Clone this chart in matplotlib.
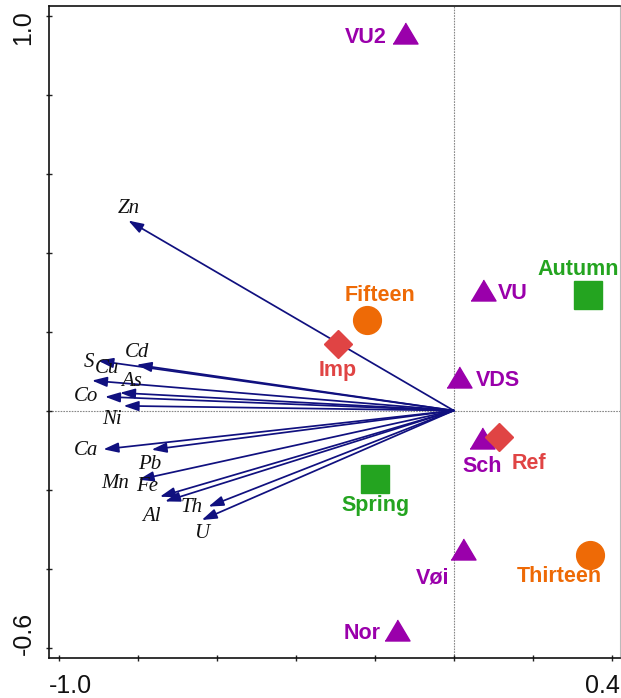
import numpy as np
import matplotlib
matplotlib.use("Agg")
import matplotlib.pyplot as plt

# environmental variables (arrows from origin)
elements = ["Zn", "S", "Cd", "Cu", "As", "Co", "Ni", "Ca", "Pb", "Mn", "Fe", "Al", "Th", "U"]
elem_x = [-0.824, -0.900, -0.803, -0.916, -0.845, -0.883, -0.836, -0.887, -0.765, -0.798, -0.744, -0.731, -0.621, -0.638]
elem_y = [0.481, 0.126, 0.116, 0.076, 0.045, 0.035, 0.012, -0.098, -0.099, -0.175, -0.218, -0.230, -0.243, -0.277]

# samples / factors
sites = ["VU2", "VU", "VDS", "Sch", "Vøi", "Nor"]
site_x = [-0.123, 0.073, 0.014, 0.072, 0.024, -0.143]
site_y = [0.956, 0.306, 0.086, -0.070, -0.351, -0.555]

seasons = ["Autumn", "Spring"]
season_x = [0.339, -0.199]
season_y = [0.293, -0.174]

years = ["Fifteen", "Thirteen"]
year_x = [-0.220, 0.345]
year_y = [0.230, -0.365]

treat = ["Imp", "Ref"]
treat_x = [-0.294, 0.114]
treat_y = [0.169, -0.066]

# label offsets (points)
elem_off = [(0.5, 9), (-7, -1), (0, 9), (11, 9), (8, 8.5), (-13.5, 0), (-8, -9.5),
            (-12.5, -1), (-1, -11), (-17, -2.5), (-9.5, 7.5), (-9.5, -11), (-12, -1), (0, -10)]
site_off = [(-28, -3.5), (22, -2.5), (28, -2.5), (0, -20.5), (-22, -21), (-25.5, -2.5)]
season_off = [(-7, 18), (0, -19)]
year_off = [(9.5, 17.5), (-22, -15.5)]
treat_off = [(0, -19), (22, -19)]

navy = "#10107f"
purple = "#9a00ab"
green = "#24a420"
orange = "#ee6a06"
red = "#e04444"

fig = plt.figure(figsize=(6.21, 6.98), dpi=100)
ax = fig.add_axes([0.0794, 0.0569, 0.919, 0.935])
ax.set_xlim(-1.024, 0.421)
ax.set_ylim(-0.627, 1.025)

ax.axhline(0, color="#888888", lw=0.8, ls=(0, (1.5, 1)), zorder=1)
ax.axvline(0, color="#888888", lw=0.8, ls=(0, (1.5, 1)), zorder=1)

# arrows
for name, x, y, off in zip(elements, elem_x, elem_y, elem_off):
    ax.annotate("", xy=(x, y), xytext=(0, 0),
                arrowprops=dict(arrowstyle="-|>,head_length=0.6,head_width=0.2",
                                color=navy, lw=1.25, mutation_scale=15,
                                shrinkA=0, shrinkB=0), zorder=2)
    ax.annotate(name, xy=(x, y), xytext=off, textcoords="offset points",
                ha="center", va="center", fontsize=15, style="italic",
                family="Liberation Serif", color="#111111", zorder=3)

tri = [(-1, -0.84), (1, -0.84), (0, 0.84)]

def draw_points(names, xs, ys, offs, color, marker, ms):
    for name, x, y, off in zip(names, xs, ys, offs):
        ax.plot(x, y, marker=marker, ms=ms, color=color, mec=color, ls="none", zorder=4)
        ax.annotate(name, xy=(x, y), xytext=off, textcoords="offset points",
                    ha="center", va="center", fontsize=15.5, fontweight="bold",
                    family="Liberation Sans", color=color, zorder=5)

draw_points(sites, site_x, site_y, site_off, purple, tri, 18)
draw_points(seasons, season_x, season_y, season_off, green, "s", 20)
draw_points(years, year_x, year_y, year_off, orange, "o", 20)
draw_points(treat, treat_x, treat_y, treat_off, red, "D", 14)

# axes styling
ax.set_xticks(np.arange(-1.0, 0.41, 0.2))
ax.set_yticks(np.arange(-0.6, 1.01, 0.2))
ax.set_xticklabels([])
ax.set_yticklabels([])
ax.tick_params(direction="inout", length=5, width=1, color="#222222")
for side in ["left", "bottom", "top"]:
    ax.spines[side].set_linewidth(1.2)
    ax.spines[side].set_color("#111111")
ax.spines["right"].set_color("#bbbbbb")

tick_font = dict(fontsize=18, family="Liberation Sans", color="#111111")
ax.text(0.0, -0.024, "-1.0", transform=ax.transAxes, ha="left", va="top", **tick_font)
ax.text(1.0, -0.024, "0.4", transform=ax.transAxes, ha="right", va="top", **tick_font)
ax.text(-0.024, 0.993, "1.0", transform=ax.transAxes, ha="right", va="top", rotation=90, **tick_font)
ax.text(-0.024, 0.005, "-0.6", transform=ax.transAxes, ha="right", va="bottom", rotation=90, **tick_font)

fig.savefig("out.png", dpi=100)
